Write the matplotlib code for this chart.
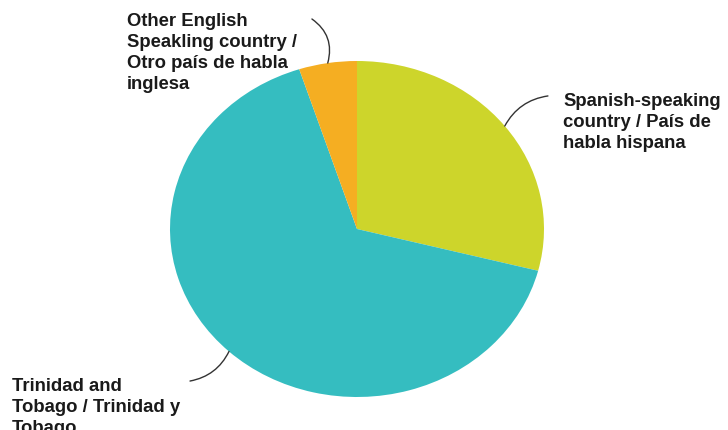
import numpy as np
import matplotlib.pyplot as plt

############################## Data ############################################
labels = ['Spanish-speaking\ncountry / País de\nhabla hispana',
          'Trinidad and\nTobago / Trinidad y\nTobago',
          'Other English\nSpeakling country /\nOtro país de habla\ninglesa']
shares = [29, 66, 5]
colors = ['#CDD52B', '#35BDC0', '#F5AE22']

# label anchor (top-left of text) and leader end, in axis units
text_pos = [(1.102, 0.815), (-1.845, -0.88), (-1.231, 1.29)]
leader_end = [(1.021, 0.792), (-0.893, -0.905), (-0.241, 1.25)]
leader_rad = [0.25, 0.25, -0.35]

############################## Plot ############################################
fig = plt.figure(figsize=(7.28, 4.31), dpi=100)
ax = fig.add_axes([0, 0, 1, 1])
wedges, _ = ax.pie(shares, colors=colors, startangle=90, counterclock=False,
                   wedgeprops={'linewidth': 0})
ax.set_aspect('auto')
ax.set_xlim(-357 / 187, (728 - 357) / 187)
ax.set_ylim(-201 / 168, 230 / 168)
ax.axis('off')

for w, lab, tp, le, rad in zip(wedges, labels, text_pos, leader_end, leader_rad):
    ang = np.deg2rad((w.theta1 + w.theta2) / 2)
    start = (np.cos(ang), np.sin(ang))
    ax.annotate('', xy=start, xytext=le,
                arrowprops=dict(arrowstyle='-', color='#333333', lw=1.0,
                                connectionstyle='arc3,rad=%s' % rad,
                                shrinkA=0, shrinkB=0))
    ax.text(tp[0], tp[1], lab, ha='left', va='top', fontsize=13.3,
            fontweight='bold', family='Liberation Sans', color='#1a1a1a',
            linespacing=1.3)

fig.savefig('out.png', dpi=100)
